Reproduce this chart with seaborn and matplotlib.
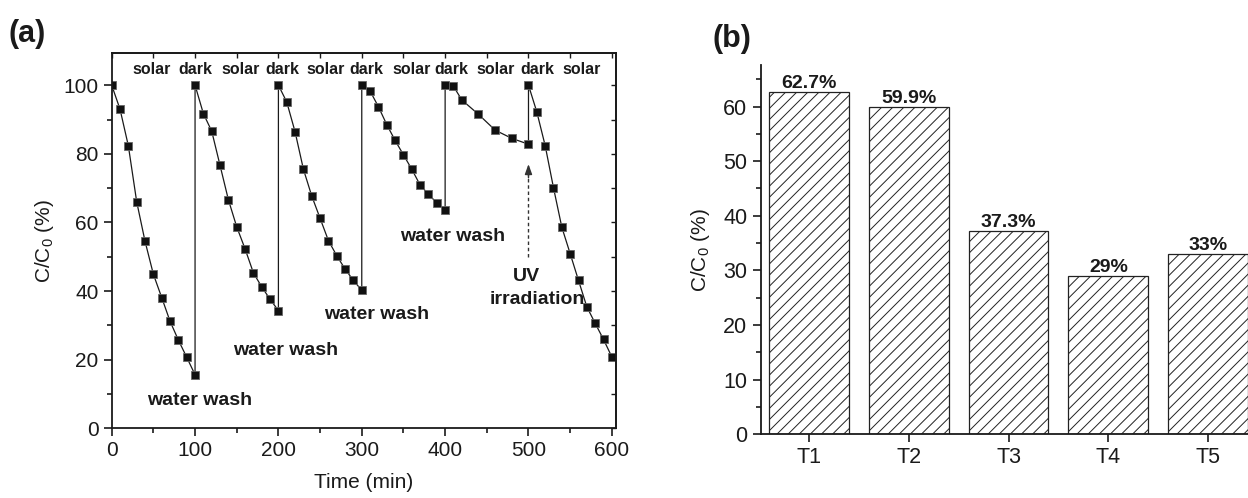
import numpy as np
import pandas as pd
import matplotlib
matplotlib.use("Agg")
import matplotlib.pyplot as plt
from matplotlib.ticker import MultipleLocator
import seaborn as sns

# ---------------- data ----------------
# panel (a): time (min) and C/C0 (%) for successive cycles
time_min = [0, 10, 20, 30, 40, 50, 60, 70, 80, 90, 100,
            100, 110, 120, 130, 140, 150, 160, 170, 180, 190, 200,
            200, 210, 220, 230, 240, 250, 260, 270, 280, 290, 300,
            300, 310, 320, 330, 340, 350, 360, 370, 380, 390, 400,
            400, 410, 420, 440, 460, 480, 500,
            500, 510, 520, 530, 540, 550, 560, 570, 580, 590, 600]
conc_pct = [100, 93.0, 82.3, 66.0, 54.5, 44.9, 38.1, 31.2, 25.7, 20.7, 15.6,
            100, 91.7, 86.6, 76.6, 66.6, 58.7, 52.3, 45.3, 41.2, 37.6, 34.3,
            100, 95.1, 86.4, 75.5, 67.7, 61.2, 54.7, 50.3, 46.4, 43.1, 40.2,
            100, 98.3, 93.7, 88.5, 83.9, 79.7, 75.5, 70.9, 68.2, 65.7, 63.5,
            100, 99.7, 95.7, 91.5, 86.9, 84.5, 82.8,
            100, 92.2, 82.4, 70.1, 58.6, 50.9, 43.1, 35.4, 30.6, 25.9, 20.8]

phase_labels = ["solar", "dark", "solar", "dark", "solar", "dark",
                "solar", "dark", "solar", "dark", "solar"]
phase_x = [48, 100, 155, 205, 257, 305, 360, 407, 460, 511, 564]
phase_y = 104.5

wash_label = "water wash"
wash_x = [105.6, 209, 318, 409]
wash_y = [8.2, 22.7, 33.2, 56.0]

# panel (b)
trials = ["T1", "T2", "T3", "T4", "T5"]
final_pct = [62.7, 59.9, 37.3, 29.0, 33.0]
final_labels = ["62.7%", "59.9%", "37.3%", "29%", "33%"]

# ---------------- style ----------------
sns.set_theme(style="ticks")
plt.rcParams["font.family"] = ["Liberation Sans", "DejaVu Sans"]
plt.rcParams["mathtext.fontset"] = "custom"
plt.rcParams["mathtext.rm"] = "Liberation Sans"
plt.rcParams["mathtext.it"] = "Liberation Sans:italic"
plt.rcParams["hatch.linewidth"] = 0.7
plt.rcParams["hatch.color"] = "#222222"

fig = plt.figure(figsize=(12.48, 4.98), dpi=100)
axa = fig.add_axes([0.0895, 0.140, 0.4041, 0.753])
axb = fig.add_axes([0.6095, 0.128, 0.3905, 0.7415])

ink = "#1a1a1a"

# ---------------- panel (a) ----------------
dfa = pd.DataFrame({"t": time_min, "c": conc_pct})
sns.lineplot(data=dfa, x="t", y="c", sort=False, estimator=None, ax=axa,
             color=ink, linewidth=0.9, marker="s", markersize=6,
             markerfacecolor="#111111", markeredgecolor="#666666",
             markeredgewidth=0.6)
axa.set_xlim(0, 605)
axa.set_ylim(0, 109.3)
axa.xaxis.set_major_locator(MultipleLocator(100))
axa.xaxis.set_minor_locator(MultipleLocator(50))
axa.yaxis.set_major_locator(MultipleLocator(20))
axa.yaxis.set_minor_locator(MultipleLocator(10))
axa.tick_params(which="major", direction="out", length=6, width=1.2,
                labelsize=15, colors=ink)
axa.tick_params(which="minor", direction="out", length=3.5, width=1.2,
                colors=ink)
for s in axa.spines.values():
    s.set_linewidth(1.3)
    s.set_color(ink)
sec_top = axa.secondary_xaxis("top")
sec_top.xaxis.set_major_locator(MultipleLocator(50))
sec_top.tick_params(direction="in", length=3.5, width=1.0, labeltop=False,
                    colors=ink)
sec_top.spines["top"].set_linewidth(1.3)
sec_right = axa.secondary_yaxis("right")
sec_right.yaxis.set_major_locator(MultipleLocator(10))
sec_right.tick_params(direction="in", length=3.5, width=1.0, labelright=False,
                      colors=ink)
sec_right.spines["right"].set_linewidth(1.3)

axa.set_xlabel("Time (min)", fontsize=15, color=ink, labelpad=9)
axa.set_ylabel(r"C/C$_0$ (%)", fontsize=15, color=ink, labelpad=5)

for lab, xp in zip(phase_labels, phase_x):
    axa.text(xp, phase_y, lab, ha="center", va="center", fontsize=11.5,
             fontweight="bold", color=ink)
for xp, yp in zip(wash_x, wash_y):
    axa.text(xp, yp, wash_label, ha="center", va="center", fontsize=14,
             fontweight="bold", color=ink)
axa.text(498, 44.3, "UV", ha="center", va="center", fontsize=14,
         fontweight="bold", color=ink)
axa.text(511, 37.5, "irradiation", ha="center", va="center", fontsize=14,
         fontweight="bold", color=ink)
axa.plot([500, 500], [50, 74], linestyle=(0, (2.5, 2)), color="#333333",
         linewidth=1.0)
axa.annotate("", xy=(500, 77), xytext=(500, 73),
             arrowprops=dict(arrowstyle="-|>,head_length=0.5,head_width=0.18",
                             color="#333333", linewidth=1.0,
                             shrinkA=0, shrinkB=0))

fig.text(0.007, 0.915, "(a)", fontsize=22, fontweight="bold", color=ink)

# ---------------- panel (b) ----------------
dfb = pd.DataFrame({"trial": trials, "pct": final_pct})
sns.barplot(data=dfb, x="trial", y="pct", ax=axb, color="white",
            edgecolor="#222222", linewidth=0.9, hatch="///", width=0.8,
            saturation=1)
for bar in axb.patches:
    bar.set_facecolor("white")
axb.bar_label(axb.containers[0], labels=final_labels, padding=0,
              fontsize=14, fontweight="bold", color=ink)
axb.set_xlim(-0.485, 4.40)
axb.set_ylim(0, 67.6)
axb.yaxis.set_major_locator(MultipleLocator(10))
axb.yaxis.set_minor_locator(MultipleLocator(5))
axb.tick_params(which="major", direction="out", length=6, width=1.2,
                labelsize=15.5, colors=ink)
axb.tick_params(axis="y", which="minor", direction="out", length=3.5,
                width=1.2, colors=ink)
sns.despine(ax=axb)
for s in ["left", "bottom"]:
    axb.spines[s].set_linewidth(1.3)
    axb.spines[s].set_color(ink)
axb.set_xlabel("")
axb.set_ylabel(r"C/C$_0$ (%)", fontsize=15, color=ink, labelpad=8)

fig.text(0.571, 0.905, "(b)", fontsize=22, fontweight="bold", color=ink)

fig.savefig("out.png", dpi=100)
